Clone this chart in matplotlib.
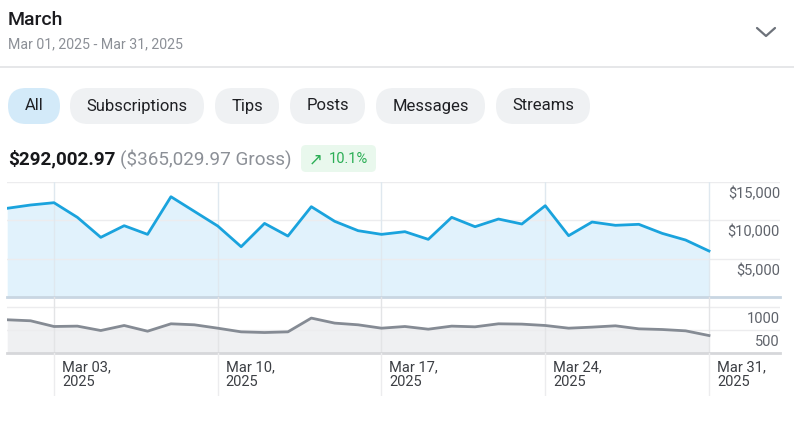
import matplotlib
matplotlib.use("Agg")
import matplotlib.pyplot as plt
from matplotlib.patches import FancyBboxPatch
import matplotlib.transforms as mtransforms

plt.rcParams['font.family'] = ['Roboto', 'DejaVu Sans']

# ============================================================
# DATA
# ============================================================
days = list(range(1, 32))  # Mar 01 .. Mar 31, 2025
net_earnings = [11570, 12000, 12300, 10390, 7780, 9300, 8170, 13080, 11170, 9260,
                6560, 9600, 7950, 11780, 9870, 8650, 8170, 8520, 7520, 10390,
                9170, 10170, 9520, 11910, 8000, 9780, 9350, 9480, 8300, 7430, 6000]
transactions = [727, 705, 580, 588, 492, 602, 477, 639, 617, 543,
                463, 448, 463, 764, 654, 617, 543, 580, 521, 588,
                573, 639, 632, 602, 543, 566, 595, 529, 514, 485, 382]
tick_days = [3, 10, 17, 24, 31]
tick_labels = ["Mar 03,\n2025", "Mar 10,\n2025", "Mar 17,\n2025", "Mar 24,\n2025", "Mar 31,\n2025"]
upper_ticks = [5000, 10000, 15000]
upper_tick_labels = ["$5,000", "$10,000", "$15,000"]
lower_ticks = [500, 1000]
lower_tick_labels = ["500", "1000"]
pills = ["All", "Subscriptions", "Tips", "Posts", "Messages", "Streams"]

# ============================================================
# FIGURE
# ============================================================
W, H = 794, 423
fig = plt.figure(figsize=(W / 100, H / 100), dpi=100)
fig.patch.set_facecolor("white")


def px_axes(x0, y0, x1, y1):
    # pixel box (top-left origin) -> axes
    return fig.add_axes([x0 / W, 1 - y1 / H, (x1 - x0) / W, (y1 - y0) / H])


bg = px_axes(0, 0, W, H)
bg.set_xlim(0, W)
bg.set_ylim(H, 0)
bg.axis("off")

# header
bg.text(8, 20, "March", fontsize=14, color="#1b1b1f", va="center", fontweight="medium")
bg.text(8, 44, "Mar 01, 2025 - Mar 31, 2025", fontsize=10.2, color="#8c9097", va="center")
bg.plot([757, 766, 775], [28, 36, 28], color="#6d727a", lw=1.6, solid_capstyle="round")
bg.plot([0, W], [67, 67], color="#e2e3e5", lw=1.2)

# filter pills
pill_x = [(8, 60), (70, 204), (215, 279), (290, 365), (376, 485), (496, 590)]
for name, (a, b) in zip(pills, pill_x):
    fc = "#d3eaf9" if name == "All" else "#eff1f3"
    bg.add_patch(FancyBboxPatch((a, 88), b - a, 36,
                                boxstyle="round,pad=0,rounding_size=18",
                                fc=fc, ec="none"))
    bg.text((a + b) / 2, 106, name, fontsize=12, color="#1f2024", ha="center", va="center")

# totals
bg.text(8, 159, "$292,002.97", fontsize=13.6, fontweight="bold", color="#17181b", va="center")
bg.text(120, 159, "($365,029.97 Gross)", fontsize=13.6, color="#8c9097", va="center")
bg.add_patch(FancyBboxPatch((301, 145), 75, 27, boxstyle="round,pad=0,rounding_size=5",
                            fc="#e9f8ed", ec="none"))
bg.text(309, 159, "\u2197", fontsize=12, color="#2bae55", va="center", family=['DejaVu Sans'])
bg.text(329, 159, "10.1%", fontsize=10.5, color="#2bae55", va="center")

# ============================================================
# CHARTS
# ============================================================
x_start, x_end = 7.2, 780
day_px = (709 - 7.2) / 30
xlim = (1, 1 + (x_end - x_start) / day_px)

grid_c = "#ececee"
label_shift = mtransforms.ScaledTranslation(0, -5 / 100, fig.dpi_scale_trans)

up = px_axes(x_start, 182, x_end, 297)
up.set_xlim(*xlim)
up.set_ylim(0, 15000)
up.fill_between(days, net_earnings, 0, color="#e1f2fc", lw=0, zorder=1)
up.plot(days, net_earnings, color="#1aa3dd", lw=2, zorder=3)
for v in upper_ticks:
    up.axhline(v, color=grid_c, lw=1, zorder=2)
for d in tick_days:
    up.axvline(d, color="#dfe8ef", lw=1, zorder=2)
up.axhline(0, color="#c9d6e2", lw=2, zorder=4, clip_on=False)
for v, lab in zip(upper_ticks, upper_tick_labels):
    up.text(1.0, v, lab, transform=up.get_yaxis_transform() + label_shift,
            ha="right", va="top", fontsize=10.5, color="#5f636b")
up.axis("off")

lo = px_axes(x_start, 297, x_end, 353)
lo.set_xlim(*xlim)
lo.set_ylim(0, 56 * 1000 / 45.7)
lo.fill_between(days, transactions, 0, color="#eff0f2", lw=0, zorder=1)
lo.plot(days, transactions, color="#858b94", lw=2, zorder=3)
for v in lower_ticks:
    lo.axhline(v, color=grid_c, lw=1, zorder=2)
for d in tick_days:
    lo.axvline(d, color="#e3e4e6", lw=1, zorder=2)
lo.axhline(0, color="#d6d7da", lw=2, zorder=4, clip_on=False)
for v, lab in zip(lower_ticks, lower_tick_labels):
    lo.text(1.0, v, lab, transform=lo.get_yaxis_transform() + label_shift,
            ha="right", va="top", fontsize=10.5, color="#5f636b")
lo.axis("off")

lab_ax = px_axes(x_start, 353, x_end, 396)
lab_ax.set_xlim(*xlim)
lab_ax.set_ylim(0, 1)
for d, lab in zip(tick_days, tick_labels):
    lab_ax.axvline(d, color="#ececee", lw=1)
    lab_ax.text(d + 8 / day_px, 0.82, lab, ha="left", va="top", fontsize=10.5,
                color="#3c3f44", linespacing=1.05)
lab_ax.axis("off")

fig.savefig("out.png", dpi=100, facecolor="white")
